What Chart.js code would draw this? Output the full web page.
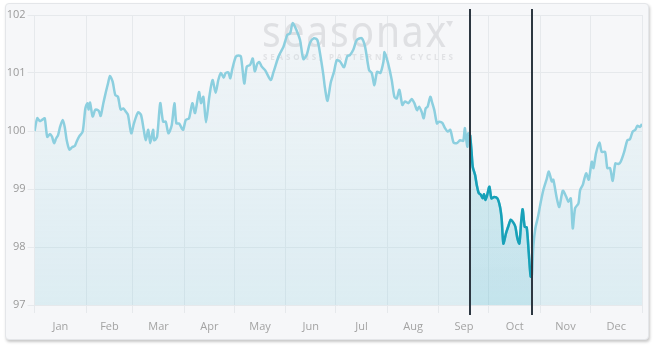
<!DOCTYPE html>
<html>
<head>
<meta charset="utf-8">
<script src="https://cdn.jsdelivr.net/npm/chart.js@4.4.0/dist/chart.umd.min.js"></script>
<style>
    html, body { margin: 0; padding: 0; background: #ffffff; }
    #panel {
        position: absolute; left: 5px; top: 3px; width: 644px; height: 337px;
        background: #f6f7f9; border: 1px solid #e4e6e9; border-radius: 4px;
        box-shadow: 1px 2px 3px rgba(0, 0, 0, 0.22); box-sizing: border-box;
    }
    #wrap { position: absolute; left: 0; top: 0; width: 654px; height: 345px; }
</style>
</head>
<body>
<div id="panel"></div>
<div id="wrap"><canvas id="seasonChart" width="654" height="345"></canvas></div>
<script>
// DATA ----------------------------------------------------------------------
const monthLabels = ["Jan", "Feb", "Mar", "Apr", "May", "Jun", "Jul", "Aug", "Sep", "Oct", "Nov", "Dec"];
const monthStarts = [0, 31, 59, 90, 120, 151, 181, 212, 243, 273, 304, 334, 365];
const yTicks = [97, 98, 99, 100, 101, 102];

// day of year / seasonal index
const days = [
    0, 1.6, 3.2, 4.9, 6.1, 7.6, 9.3, 10.5, 11.7, 12.9,
    14.1, 15.3, 16.9, 18.1, 19.3, 20.9, 22.5, 24.1, 25.3, 26.9,
    28.9, 30.5, 31.7, 32.5, 33.3, 34.9, 36.5, 38.5, 39.7, 41.3,
    42.9, 44.1, 45.3, 46.9, 48.5, 50.1, 51.7, 53.3, 54.9, 56.1,
    58.1, 59.7, 62.1, 63.9, 65.6, 66.8, 68.3, 69.5, 71.2, 71.9,
    73.6, 75.5, 77.2, 78.8, 80.4, 82.4, 84.0, 85.2, 86.8, 89.2,
    90.8, 92.8, 94.8, 96.4, 98.8, 100.0, 101.4, 103.0, 105.0, 106.9,
    108.8, 110.4, 112.0, 113.6, 114.8, 116.4, 117.6, 118.8, 120.9, 122.4,
    124.0, 126.0, 127.5, 129.5, 131.1, 132.3, 133.8, 135.0, 136.5, 138.5,
    141.9, 143.5, 146.5, 147.5, 149.5, 150.5, 151.9, 153.5, 155.1, 157.5,
    159.5, 161.5, 163.5, 165.5, 167.9, 169.9, 171.5, 173.5, 174.5, 176.0,
    178.0, 179.9, 181.6, 183.5, 185.9, 187.9, 189.5, 191.5, 193.6, 196.6,
    198.6, 201.0, 202.6, 204.2, 205.8, 207.8, 209.6, 210.3, 212.4, 214.6,
    216.2, 217.6, 219.2, 221.0, 222.6, 224.6, 226.6, 228.2, 229.8, 231.0,
    232.6, 233.8, 235.0, 236.2, 237.8, 239.0, 240.2, 241.8, 243.0, 245.0,
    246.6, 248.3, 249.8, 251.8, 253.7, 255.7, 257.6, 258.5, 259.3, 260.1,
    260.6, 261.7, 262.5, 263.3, 264.7, 265.7, 266.9, 268.1, 269.3, 270.1,
    270.9, 272.1, 273.3, 274.5, 276.1, 278.1, 279.7, 280.7, 281.7, 283.3,
    284.7, 286.1, 287.7, 288.9, 290.1, 291.3, 292.5, 293.3, 294.5, 295.7,
    296.9, 298.1, 298.9, 299.7, 300.9, 302.5, 304.2, 305.7, 307.8, 309.0,
    310.8, 311.7, 313.8, 315.3, 317.4, 319.4, 320.8, 322.2, 323.4, 324.8,
    326.8, 327.8, 329.4, 331.4, 333.0, 334.8, 335.8, 337.4, 339.4, 340.8,
    342.8, 344.2, 345.8, 347.4, 349.0, 350.8, 352.2, 354.2, 356.2, 357.8,
    359.4, 361.0, 362.2, 363.8, 365
];
const values = [
    100.00, 100.22, 100.17, 100.20, 100.22, 99.90, 99.95, 99.90, 99.79, 99.87,
    99.93, 100.07, 100.19, 100.07, 99.84, 99.68, 99.72, 99.74, 99.82, 99.91,
    99.99, 100.39, 100.48, 100.37, 100.49, 100.25, 100.37, 100.35, 100.26, 100.48,
    100.68, 100.82, 100.95, 100.85, 100.62, 100.59, 100.37, 100.39, 100.33, 100.28,
    99.96, 100.13, 100.32, 100.28, 100.02, 99.84, 100.02, 99.79, 100.02, 99.84,
    99.90, 100.48, 100.16, 100.16, 99.96, 100.10, 100.48, 100.13, 100.13, 100.02,
    100.19, 100.22, 100.48, 100.31, 100.67, 100.48, 100.59, 100.15, 100.59, 100.88,
    100.66, 100.88, 101.00, 100.92, 101.00, 101.01, 100.91, 101.07, 101.28, 101.30,
    101.28, 100.82, 101.11, 101.14, 101.25, 101.03, 101.16, 101.19, 101.11, 101.05,
    100.88, 101.01, 101.28, 101.34, 101.45, 101.54, 101.66, 101.68, 101.86, 101.73,
    101.57, 101.24, 101.31, 101.52, 101.60, 101.57, 101.34, 100.97, 100.74, 100.52,
    100.84, 101.02, 101.22, 101.20, 101.10, 101.29, 101.31, 101.40, 101.57, 101.60,
    101.45, 101.05, 101.00, 100.79, 101.02, 101.00, 101.19, 101.36, 101.17, 100.88,
    100.59, 100.56, 100.71, 100.45, 100.51, 100.48, 100.55, 100.48, 100.36, 100.42,
    100.33, 100.22, 100.39, 100.42, 100.59, 100.48, 100.36, 100.13, 100.16, 100.14,
    100.05, 99.99, 100.02, 99.80, 99.79, 99.84, 99.83, 100.05, 99.87, 99.73,
    99.96, 99.93, 99.67, 99.38, 99.24, 99.07, 98.93, 98.90, 98.84, 98.91,
    98.81, 98.91, 99.04, 98.84, 98.86, 98.84, 98.69, 98.47, 98.06, 98.24,
    98.36, 98.47, 98.42, 98.35, 98.15, 98.06, 98.47, 98.65, 98.35, 98.34,
    97.92, 97.49, 97.52, 98.01, 98.32, 98.52, 98.78, 98.98, 99.18, 99.30,
    99.13, 99.16, 98.84, 98.69, 98.97, 98.87, 98.78, 98.84, 98.32, 98.67,
    98.75, 98.98, 99.07, 99.27, 99.16, 99.47, 99.36, 99.62, 99.80, 99.64,
    99.64, 99.36, 99.36, 99.14, 99.44, 99.43, 99.47, 99.63, 99.84, 99.86,
    99.99, 100.02, 100.09, 100.07, 100.12
];

// highlighted seasonal window (day of year)
const highlightStart = 261.7;
const highlightEnd = 298.9;

// BUILD ---------------------------------------------------------------------
const allPoints = days.map((d, i) => ({ x: d, y: values[i] }));
const highlightPoints = allPoints.filter(p => p.x >= highlightStart && p.x <= highlightEnd);

const monthMids = monthLabels.map((m, i) => (monthStarts[i] + monthStarts[i + 1]) / 2);
const xTickValues = monthStarts.concat(monthMids).sort((a, b) => a - b);

function verticalFill(ctx, area, top, bottom) {
    const g = ctx.createLinearGradient(0, area.top, 0, area.bottom);
    g.addColorStop(0, top);
    g.addColorStop(1, bottom);
    return g;
}

// watermark behind the line
const watermark = {
    id: 'watermark',
    beforeDatasetsDraw(chart) {
        const ctx = chart.ctx;
        ctx.save();
        ctx.fillStyle = '#dfe0e3';
        ctx.textBaseline = 'alphabetic';
        ctx.textAlign = 'left';
        ctx.font = '400 44px "Noto Sans"';
        ctx.letterSpacing = '2px';
        const w = ctx.measureText('seasonax').width;
        ctx.save();
        ctx.translate(262, 47);
        ctx.scale(186 / w, 1);
        ctx.fillText('seasonax', 0, 0);
        ctx.restore();

        ctx.beginPath();
        ctx.moveTo(446, 21);
        ctx.lineTo(453, 21);
        ctx.lineTo(450, 27);
        ctx.closePath();
        ctx.fill();

        const sub = 'SEASONS, PATTERNS & CYCLES';
        ctx.font = 'bold 8px "Noto Sans"';
        ctx.letterSpacing = '0px';
        const sw = ctx.measureText(sub).width;
        ctx.letterSpacing = ((190 - sw) / (sub.length - 1)) + 'px';
        ctx.fillStyle = '#e1e2e5';
        ctx.fillText(sub, 263, 60);
        ctx.restore();
    }
};

// black boundaries of the seasonal window
const windowLines = {
    id: 'windowLines',
    afterDatasetsDraw(chart) {
        const ctx = chart.ctx;
        const xs = chart.scales.x;
        ctx.save();
        ctx.strokeStyle = '#2d3741';
        ctx.lineWidth = 2;
        [highlightStart, highlightEnd].forEach(d => {
            const px = Math.round(xs.getPixelForValue(d));
            ctx.beginPath();
            ctx.moveTo(px, 9);
            ctx.lineTo(px, 315);
            ctx.stroke();
        });
        ctx.restore();
    }
};

// CHART ---------------------------------------------------------------------
document.addEventListener('DOMContentLoaded', () => {
    const ctx = document.getElementById('seasonChart').getContext('2d');
    const gridColor = '#e6e9ec';

    new Chart(ctx, {
        type: 'line',
        data: {
            datasets: [{
                data: allPoints,
                order: 2,
                borderColor: '#8ccfdf',
                borderWidth: 2.5,
                pointRadius: 0,
                tension: 0.25,
                fill: 'start',
                backgroundColor: c => {
                    const a = c.chart.chartArea;
                    if (!a) return 'transparent';
                    return verticalFill(c.chart.ctx, a, 'rgba(140,205,222,0.03)', 'rgba(140,205,222,0.24)');
                }
            }, {
                data: highlightPoints,
                order: 1,
                borderColor: '#17a1b8',
                borderWidth: 2.5,
                pointRadius: 0,
                tension: 0.25,
                fill: 'start',
                backgroundColor: c => {
                    const a = c.chart.chartArea;
                    if (!a) return 'transparent';
                    return verticalFill(c.chart.ctx, a, 'rgba(40,170,195,0.07)', 'rgba(40,170,195,0.14)');
                }
            }]
        },
        options: {
            responsive: false,
            animation: false,
            layout: { padding: { left: 0, right: 12, top: 15, bottom: 0 } },
            plugins: { legend: { display: false }, tooltip: { enabled: false } },
            scales: {
                x: {
                    type: 'linear',
                    min: 0,
                    max: 365,
                    afterBuildTicks: s => { s.ticks = xTickValues.map(v => ({ value: v })); },
                    afterFit: s => { s.height = 40; },
                    border: { display: false },
                    grid: {
                        color: c => (c.tick && monthStarts.includes(c.tick.value)) ? gridColor : 'transparent',
                        tickLength: 8
                    },
                    ticks: {
                        autoSkip: false,
                        maxRotation: 0,
                        padding: 7,
                        color: '#a3a3a3',
                        font: { family: '"Open Sans"', size: 11 },
                        callback: v => {
                            const i = monthMids.indexOf(v);
                            return i >= 0 ? monthLabels[i] : '';
                        }
                    }
                },
                y: {
                    min: 97,
                    max: 102,
                    afterBuildTicks: s => { s.ticks = yTicks.map(v => ({ value: v })); },
                    afterFit: s => { s.width = 34.6; },
                    border: { display: false },
                    grid: { color: gridColor, tickLength: 7 },
                    ticks: {
                        padding: 2,
                        color: '#9a9a9a',
                        font: { family: '"Open Sans"', size: 11 }
                    }
                }
            }
        },
        plugins: [watermark, windowLines]
    });
});
</script>
</body>
</html>
